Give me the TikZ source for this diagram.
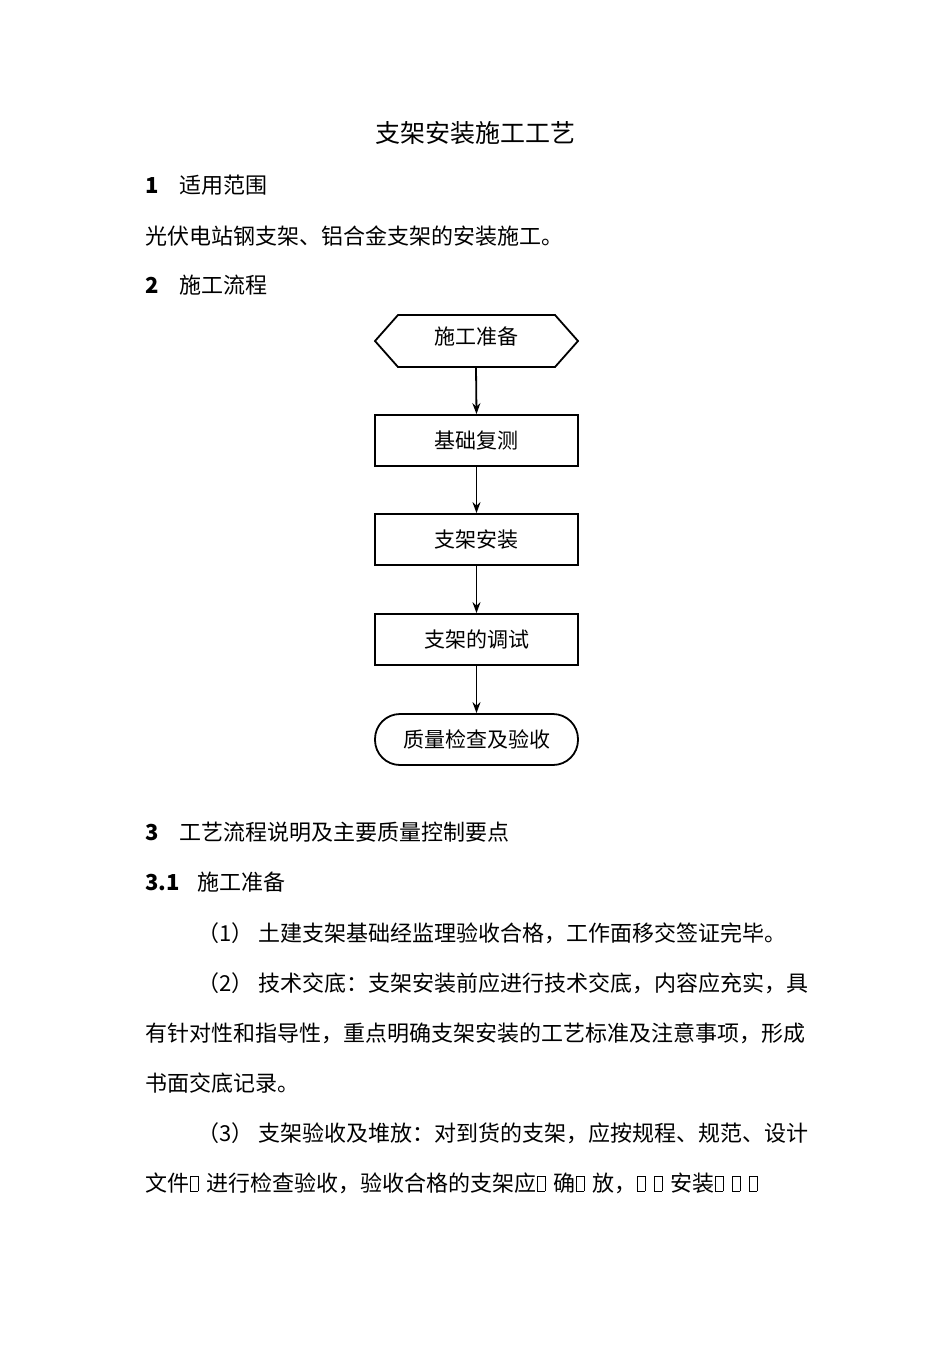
\documentclass[tikz,border=0pt]{standalone}
\usepackage{fontspec}
\setmainfont{Liberation Serif}
\newfontfamily\cjk{Noto Sans CJK SC}
\usetikzlibrary{shapes.geometric,arrows.meta}
\newcommand\gbx{\hspace{1pt}\raisebox{0pt}{\setlength{\fboxsep}{0pt}\setlength{\fboxrule}{0.5pt}\fbox{\rule{0pt}{15pt}\hspace{7pt}}}\hspace{8pt}}
\tikzset{
 txt/.style={font=\fontsize{22}{22}\selectfont\cjk, inner sep=0pt, anchor=west},
 fbox/.style={draw, line width=1.8pt, minimum width=203pt, minimum height=51pt, font=\fontsize{21}{21}\selectfont\cjk},
 arr/.style={-{Stealth[length=11pt,width=8pt]}, line width=1.8pt}
}
\begin{document}
\begin{tikzpicture}[x=1pt,y=-1pt]
\useasboundingbox[fill=white] (0,0) rectangle (950,1345);
\node[txt,anchor=center,font=\fontsize{25}{25}\selectfont\cjk] (title) at (475,133) {支架安装施工工艺};
\node[txt] (s1) at (145,185) {\textbf{1}\hspace{21pt}适用范围};
\node[txt] (p1) at (145,236) {光伏电站钢支架、铝合金支架的安装施工。};
\node[txt] (s2) at (145,285) {\textbf{2}\hspace{21pt}施工流程};

\draw[line width=1.8pt] (375,341) -- (398,315) -- (555,315) -- (578,341) -- (555,367) -- (398,367) -- cycle;
\node[font=\fontsize{21}{21}\selectfont\cjk] (a) at (476,336) {施工准备};
\coordinate (abot) at (476,367);
\node[fbox] (b) at (476.5,440.5) {基础复测};
\node[fbox] (c) at (476.5,539.5) {支架安装};
\node[fbox] (d) at (476.5,639.5) {支架的调试};
\node[fbox,rounded corners=25pt] (e) at (476.5,739.5) {质量检查及验收};
\draw[arr] (abot) -- (b.north);
\draw[arr] (b) -- (c);
\draw[arr] (c) -- (d);
\draw[arr] (d) -- (e);

\node[txt] (s3) at (145,832) {\textbf{3}\hspace{21pt}工艺流程说明及主要质量控制要点};
\node[txt] (s31) at (145,882) {\textbf{3.1}\hspace{18pt}施工准备};
\node[txt] (l1) at (197,933) {（1） 土建支架基础经监理验收合格，工作面移交签证完毕。};
\node[txt] (l2) at (197,983) {（2） 技术交底：支架安装前应进行技术交底，内容应充实，具};
\node[txt] (l3) at (145,1033) {有针对性和指导性，重点明确支架安装的工艺标准及注意事项，形成};
\node[txt] (l4) at (145,1083) {书面交底记录。};
\node[txt] (l5) at (197,1133) {（3） 支架验收及堆放：对到货的支架，应按规程、规范、设计};
\node[txt] (l6) at (145,1183) {文件\gbx 进行检查验收，验收合格的支架应\gbx 确\gbx 放，\gbx\gbx 安装\gbx\gbx\gbx};
\end{tikzpicture}
\end{document}
